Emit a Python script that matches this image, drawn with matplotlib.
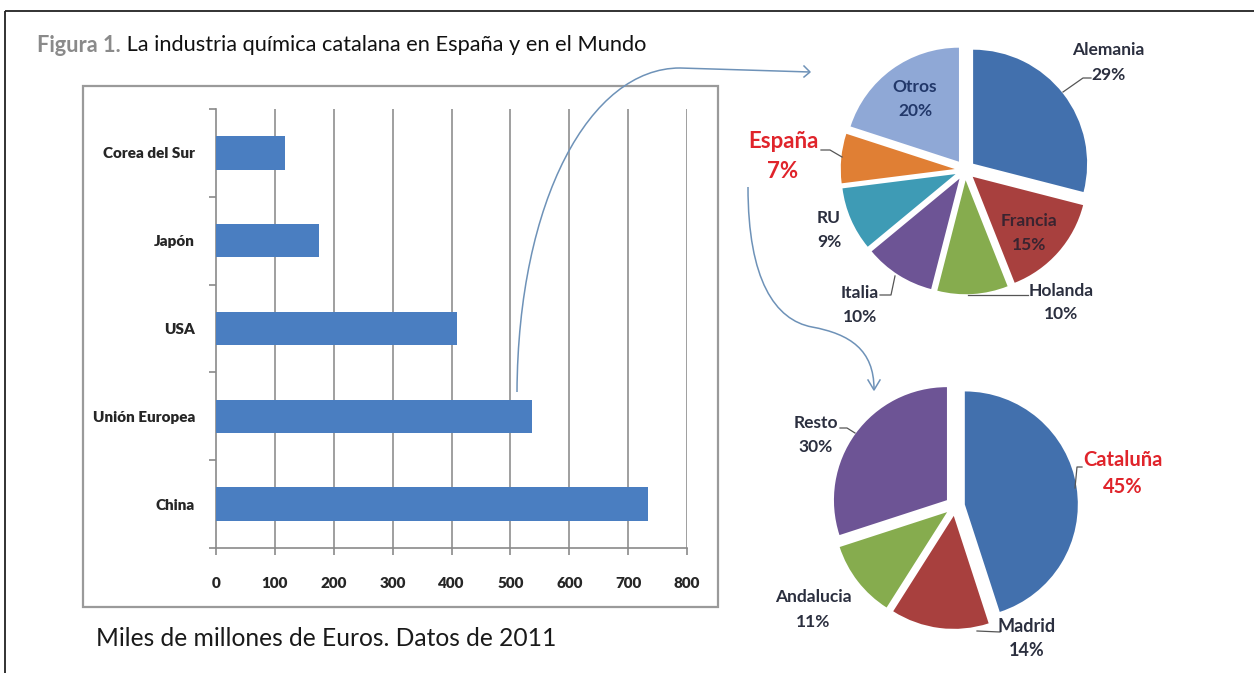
import matplotlib
matplotlib.use('Agg')
import matplotlib.pyplot as plt
from matplotlib.path import Path
from matplotlib.patches import PathPatch, Rectangle
from matplotlib.ticker import FixedLocator

W, H, DPI = 1254, 673, 100

# ---------------- data ----------------
countries = ['Corea del Sur', 'Japón', 'USA', 'Unión Europea', 'China']
sales = [118, 175, 409, 537, 734]
x_ticks = [0, 100, 200, 300, 400, 500, 600, 700, 800]

eu_names = ['Alemania', 'Francia', 'Holanda', 'Italia', 'RU', 'España', 'Otros']
eu_shares = [29, 15, 10, 10, 9, 7, 20]
eu_colors = ['#4270AD', '#A8403E', '#86AC4E', '#6D5495', '#3E9BB5', '#E07F34', '#8FA8D6']

es_names = ['Cataluña', 'Madrid', 'Andalucia', 'Resto']
es_shares = [45, 14, 11, 30]
es_colors = ['#4270AD', '#A8403E', '#86AC4E', '#6D5495']

title_bold = 'Figura 1.'
title_rest = ' La industria química catalana en España y en el Mundo'
note = 'Miles de millones de Euros. Datos de 2011'

# ---------------- layout (pixels) ----------------
FONT = 'Lato'
BAR_COLOR = '#4A7EC1'
LABEL_DARK = '#2B2F3F'
RED = '#E0242B'
ARROW = '#6E92B8'

fig = plt.figure(figsize=(W / DPI, H / DPI), dpi=DPI)
fig.patch.set_facecolor('white')


def px_rect(x0, y0, x1, y1):
    return [x0 / W, 1 - y1 / H, (x1 - x0) / W, (y1 - y0) / H]


# overlay axes in pixel coordinates
ov = fig.add_axes([0, 0, 1, 1])
ov.set_xlim(0, W)
ov.set_ylim(H, 0)
ov.axis('off')
ov.set_zorder(10)
ov.patch.set_visible(False)

# outer frame
ov.plot([5, W], [11, 11], color='#222222', lw=1.3, solid_capstyle='butt')
ov.plot([5, 5], [11, H], color='#222222', lw=1.3, solid_capstyle='butt')

# bar chart box
ov.add_patch(Rectangle((83, 86), 718 - 83, 607 - 86, fill=False,
                       edgecolor='#9A9A9A', lw=1.6))

# ---------------- bar chart ----------------
axb = fig.add_axes(px_rect(216, 109, 687, 548))
ypos = list(range(len(countries)))[::-1]
axb.barh(ypos, sales, height=0.38, color=BAR_COLOR, zorder=3)
axb.set_xlim(x_ticks[0], x_ticks[-1])
axb.set_ylim(-0.5, len(countries) - 0.5)
axb.xaxis.set_major_locator(FixedLocator(x_ticks))
axb.set_xticklabels([str(v) for v in x_ticks], fontfamily=FONT,
                    fontweight='heavy', fontsize=11, color='#262626')
axb.set_yticks(ypos)
axb.set_yticklabels(countries, fontfamily=FONT, fontweight='heavy',
                    fontsize=11, color='#262626')
axb.yaxis.set_minor_locator(FixedLocator([i - 0.5 for i in range(len(countries) + 1)]))
axb.tick_params(axis='y', which='major', length=0, pad=15)
axb.tick_params(axis='y', which='minor', length=5, color='#8A8A8A', width=1.2)
axb.tick_params(axis='x', length=5, color='#8A8A8A', width=1.2, pad=16)
for v in x_ticks[1:]:
    axb.axvline(v, color='#8F8F8F', lw=1.2, zorder=1)
for s in ['top', 'right']:
    axb.spines[s].set_visible(False)
for s in ['left', 'bottom']:
    axb.spines[s].set_color('#8A8A8A')
    axb.spines[s].set_linewidth(1.2)

# ---------------- pies ----------------
def make_pie(cx, cy, r, shares, colors, explode):
    lim = 1.3
    side = 2 * lim * r
    ax = fig.add_axes(px_rect(cx - side / 2, cy - side / 2, cx + side / 2, cy + side / 2))
    ax.pie(shares, colors=colors, startangle=90, counterclock=False,
           explode=[explode] * len(shares), radius=1,
           wedgeprops=dict(linewidth=0))
    ax.set_xlim(-lim, lim)
    ax.set_ylim(-lim, lim)
    ax.set_aspect('equal', adjustable='box')
    ax.axis('off')
    return ax

make_pie(965, 170, 114, eu_shares, eu_colors, 0.09)
make_pie(955, 506, 113, es_shares, es_colors, 0.088)

# label placement (pixel centres of name / percent lines)
eu_label_pos = {
    'Alemania': ((1108, 50), (1108, 75), LABEL_DARK, 12.5, [(1063, 92), (1083, 78), (1091, 78)]),
    'Francia': ((1029, 221), (1029, 245), '#3A2430', 12.5, None),
    'Holanda': ((1061, 291), (1061, 314), LABEL_DARK, 12.5, [(1028, 295), (968, 295)]),
    'Italia': ((860, 293), (860, 317), LABEL_DARK, 12.5, [(880, 295), (891, 295), (895, 276)]),
    'RU': ((829, 218), (829, 242), LABEL_DARK, 12.5, None),
    'España': ((783, 142), (783, 172), RED, 16, [(821, 150), (830, 150), (842, 157)]),
    'Otros': ((915, 87), (915, 111), '#22386A', 12.5, None),
}
es_label_pos = {
    'Cataluña': ((1123, 460), (1123, 487), RED, 14.5, [(1075, 488), (1077, 467), (1082, 467)]),
    'Madrid': ((1027, 626), (1027, 650), LABEL_DARK, 13, [(1000, 632), (977, 631)]),
    'Andalucia': ((813, 597), (813, 622), LABEL_DARK, 12.5, None),
    'Resto': ((816, 423), (816, 447), LABEL_DARK, 12.5, [(840, 428), (847, 428), (855, 433)]),
}


def draw_labels(names, shares, pos):
    for name, share in zip(names, shares):
        p_name, p_pct, col, fs, leader = pos[name]
        ov.text(*p_name, name, ha='center', va='center', color=col,
                fontfamily=FONT, fontweight='bold', fontsize=fs)
        ov.text(*p_pct, f'{share}%', ha='center', va='center', color=col,
                fontfamily=FONT, fontweight='bold', fontsize=fs)
        if leader:
            xs, ys = zip(*leader)
            ov.plot(xs, ys, color='#555555', lw=0.9)

draw_labels(eu_names, eu_shares, eu_label_pos)
draw_labels(es_names, es_shares, es_label_pos)

# ---------------- arrows ----------------
p1 = Path([(517, 392), (518, 200), (590, 68), (680, 68), (810, 72)],
          [Path.MOVETO, Path.CURVE4, Path.CURVE4, Path.CURVE4, Path.LINETO])
ov.add_patch(PathPatch(p1, fill=False, edgecolor=ARROW, lw=1.1))
ov.plot([804, 810, 804], [66, 72, 77], color=ARROW, lw=1.1)

p2 = Path([(748, 187), (748, 280), (775, 320), (812, 327),
           (850, 334), (874, 350), (874, 389)],
          [Path.MOVETO, Path.CURVE4, Path.CURVE4, Path.CURVE4,
           Path.CURVE4, Path.CURVE4, Path.CURVE4])
ov.add_patch(PathPatch(p2, fill=False, edgecolor=ARROW, lw=1.1))
ov.plot([868, 874, 880], [380, 390, 380], color=ARROW, lw=1.1)

# ---------------- texts ----------------
t1 = ov.text(37, 45, title_bold, ha='left', va='center', color='#8A8A8A',
             fontfamily=FONT, fontweight='bold', fontsize=13)
t2 = ov.annotate(title_rest, xy=(1, 0.5), xycoords=t1, ha='left', va='center',
                 color='#111111', fontfamily=FONT, fontsize=13)
t3 = ov.text(96, 639, note, ha='left', va='center', color='#1A1A1A',
             fontfamily=FONT, fontsize=14)

fig.canvas.draw()
r = fig.canvas.get_renderer()
w_title = t2.get_window_extent(r).x1 - t1.get_window_extent(r).x0
k = 609 / w_title
t1.set_fontsize(13 * k)
t2.set_fontsize(13 * k)
w_note = t3.get_window_extent(r).width
t3.set_fontsize(14 * 462 / w_note)

fig.savefig('out.png', dpi=DPI, facecolor='white')
